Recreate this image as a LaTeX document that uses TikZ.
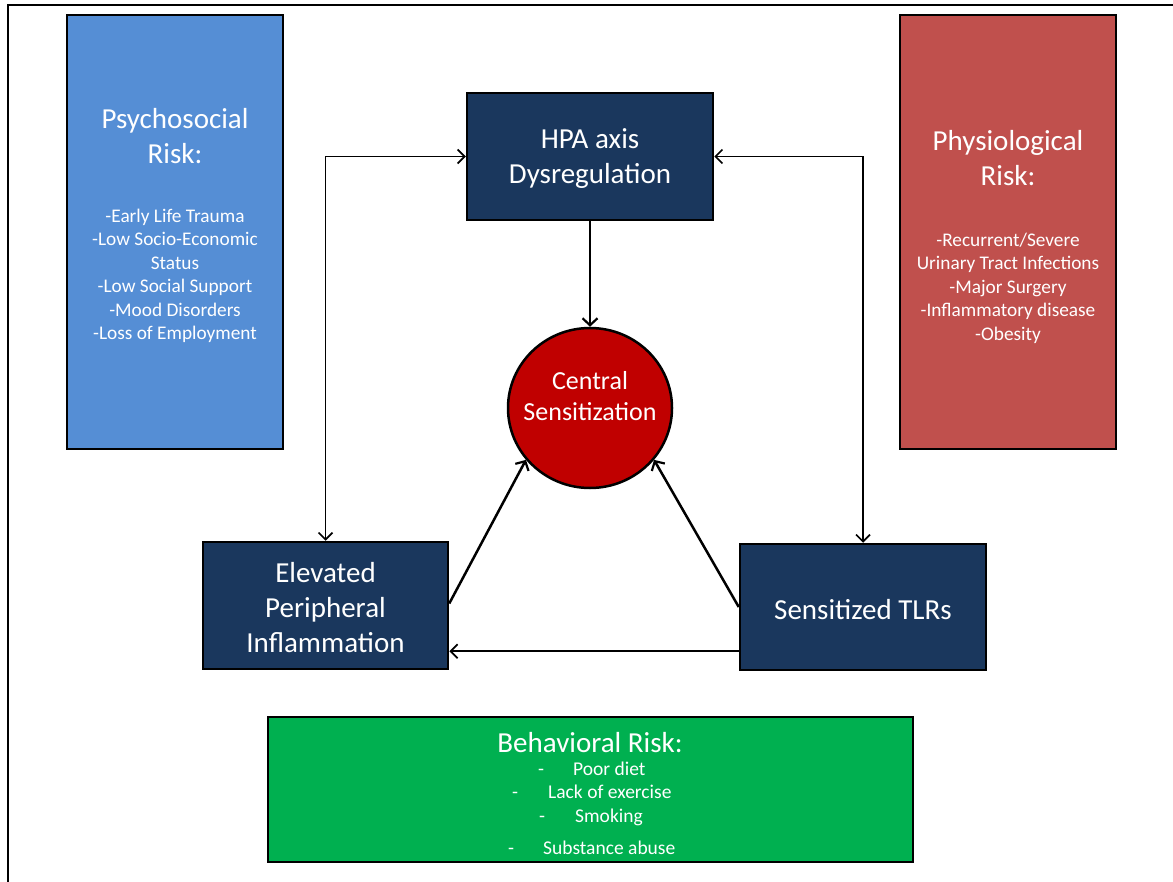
\documentclass[tikz,border=0pt]{standalone}
\usepackage{fontspec}
\setmainfont{Carlito}
\usetikzlibrary{arrows.meta,shapes.geometric}
\definecolor{psyblue}{HTML}{558ED5}
\definecolor{phyred}{HTML}{C0504D}
\definecolor{navy}{HTML}{1A375D}
\definecolor{cred}{HTML}{C00000}
\definecolor{bgreen}{HTML}{00B050}
\tikzset{
  box/.style={draw=black, line width=2.5pt, rectangle, inner sep=0pt},
  navybox/.style={box, fill=navy, minimum width=246pt, minimum height=127pt},
  title/.style={text=white, align=center, font=\fontsize{29}{35}\selectfont, inner sep=0pt},
  lst/.style={text=white, align=center, font=\fontsize{19.3}{23.5}\selectfont, inner sep=0pt},
  bl/.style={text=white, anchor=base west, font=\fontsize{19.5}{20}\selectfont, inner sep=0pt},
  arr/.style={line width=2.5pt, -{Straight Barb[length=7pt,width=15pt,line width=2.2pt]}},
  biarr/.style={line width=1.5pt, {Straight Barb[length=7pt,width=14pt,line width=1.6pt]}-{Straight Barb[length=7pt,width=14pt,line width=1.6pt]}},
}
\begin{document}
\begin{tikzpicture}[x=1pt,y=-1pt]
\useasboundingbox (0,0) rectangle (1173,882);
\fill[white] (0,0) rectangle (1173,882);
% frame
\draw[line width=2pt] (1173,5) -- (8,5) -- (8,882);

% risk boxes
\node[box, fill=psyblue, minimum width=216pt, minimum height=434pt] (psy) at (175,232) {};
\node[title] (psyt) at (175,136) {Psychosocial\\Risk:};
\node[lst] (psyl) at (175,276) {-Early Life Trauma\\-Low Socio-Economic\\Status\\-Low Social Support\\-Mood Disorders\\-Loss of Employment};

\node[box, fill=phyred, minimum width=216pt, minimum height=434pt] (phy) at (1008,232) {};
\node[title] (phyt) at (1008,158.5) {Physiological\\Risk:};
\node[lst] (phyl) at (1008,288) {-Recurrent/Severe\\Urinary Tract Infections\\-Major Surgery\\-Inflammatory disease\\-Obesity};

\node[box, fill=bgreen, minimum width=645pt, minimum height=145pt] (beh) at (590.5,789.5) {};
\node[title] (beht) at (590,743) {Behavioral Risk:};
\node[bl] (d1) at (538,775) {-};
\node[bl] (t1) at (573,775) {Poor diet};
\node[bl] (d2) at (512,798) {-};
\node[bl] (t2) at (548,798) {Lack of exercise};
\node[bl] (d3) at (539,822) {-};
\node[bl] (t3) at (575,822) {Smoking};
\node[bl] (d4) at (508,854) {-};
\node[bl] (t4) at (543,854) {Substance abuse};

% core nodes
\node[navybox] (hpa) at (590,156.5) {};
\node[title] (hpat) at (590,159) {HPA axis\\Dysregulation};
\node[navybox, minimum width=245pt] (elev) at (325.5,605.5) {};
\node[title] (elevt) at (325.5,607.5) {Elevated\\Peripheral\\Inflammation};
\node[navybox, minimum height=126pt] (sens) at (863,607) {};
\node[title] (senst) at (863,610) {Sensitized TLRs};
\node[ellipse, draw=black, line width=2.5pt, fill=cred, minimum width=164pt, minimum height=160pt, inner sep=0pt] (cs) at (590,408) {};
\node[text=white, align=center, font=\fontsize{26}{31}\selectfont, inner sep=0pt] (cst) at (590,396) {Central\\Sensitization};

% connectors
\draw[arr] (hpa.south) -- (cs.north);
\draw[arr] ([yshift=2pt]elev.east) -- (cs.219);
\draw[arr] (sens.west) -- (cs.321);
\draw[line width=2pt, -{Straight Barb[length=7pt,width=14pt,line width=1.8pt]}] ([yshift=20pt]sens.south west) -- ([yshift=19pt]elev.south east);
\draw[biarr] (elev.north) |- (hpa.west);
\draw[biarr] (sens.north) |- (hpa.east);
\end{tikzpicture}
\end{document}
